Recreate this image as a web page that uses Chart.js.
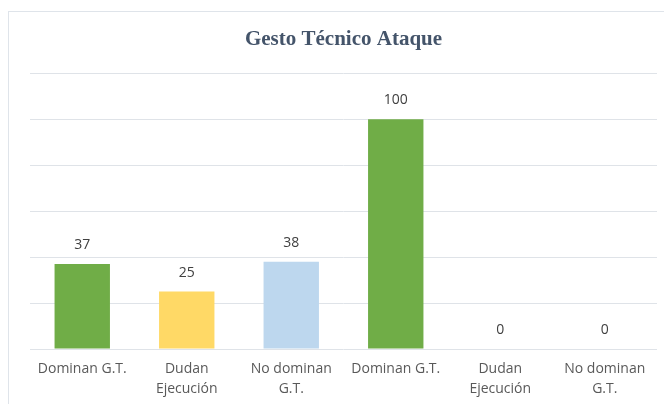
<!DOCTYPE html>
<html>
<head>
<meta charset="utf-8">
<script src="https://cdn.jsdelivr.net/npm/chart.js@4/dist/chart.umd.min.js"></script>
<style>
    html, body { margin: 0; padding: 0; background: #fff; }
    #wrap { position: relative; width: 664px; height: 404px; overflow: hidden; }
    #frame {
        position: absolute; left: 8px; top: 11px; width: 700px; height: 420px;
        border-left: 1px solid #dfe4ea; border-top: 1px solid #dfe4ea;
    }
    #gestoChart { position: absolute; left: 0; top: 0; }
</style>
</head>
<body>
<div id="wrap">
    <div id="frame"></div>
    <canvas id="gestoChart" width="664" height="404"></canvas>
</div>
<script>
// Data gesto tecnico ataque
const categories = [
    ['Dominan G.T.'],
    ['Dudan', 'Ejecución'],
    ['No dominan', 'G.T.'],
    ['Dominan G.T.'],
    ['Dudan', 'Ejecución'],
    ['No dominan', 'G.T.']
];
const values = [37, 25, 38, 100, 0, 0];
const barColors = ['#70ad47', '#ffd966', '#bdd7ee', '#70ad47', '#70ad47', '#70ad47'];
const yTicks = [0, 20, 40, 60, 80, 100, 120];

// Label angka di atas batang
const valueLabels = {
    id: 'valueLabels',
    afterDatasetsDraw(chart) {
        const ctx = chart.ctx;
        const meta = chart.getDatasetMeta(0);
        ctx.save();
        ctx.font = '14px "Open Sans"';
        ctx.fillStyle = '#404040';
        ctx.textAlign = 'center';
        ctx.textBaseline = 'middle';
        meta.data.forEach((bar, i) => {
            ctx.fillText(String(values[i]), bar.x, bar.y - 19);
        });
        ctx.restore();
    }
};

const ctx = document.getElementById('gestoChart').getContext('2d');
new Chart(ctx, {
    type: 'bar',
    data: {
        labels: categories,
        datasets: [{
            data: values,
            backgroundColor: barColors,
            borderWidth: 0,
            categoryPercentage: 1,
            barPercentage: 0.53
        }]
    },
    options: {
        responsive: false,
        animation: false,
        layout: {
            padding: { left: 30, right: 7, top: 0, bottom: 0 }
        },
        plugins: {
            legend: { display: false },
            tooltip: { enabled: false },
            title: {
                display: true,
                text: 'Gesto Técnico Ataque',
                color: '#44546a',
                font: { family: '"Liberation Serif"', size: 21, weight: 'bold' },
                padding: { top: 27, bottom: 21 }
            }
        },
        scales: {
            x: {
                grid: { display: false, drawTicks: false },
                border: { display: false },
                afterFit(axis) {
                    axis.height = 55;
                },
                ticks: {
                    color: '#595959',
                    font: { family: '"Open Sans"', size: 14, lineHeight: 1.45 },
                    padding: 10,
                    maxRotation: 0,
                    autoSkip: false
                }
            },
            y: {
                min: 0,
                max: 120,
                afterBuildTicks(axis) {
                    axis.ticks = yTicks.map(v => ({ value: v }));
                },
                afterFit(axis) {
                    axis.width = 0;
                },
                grid: { color: '#dfe3e8', lineWidth: 1, drawTicks: false },
                border: { display: false },
                ticks: { display: false }
            }
        }
    },
    plugins: [valueLabels]
});
</script>
</body>
</html>
